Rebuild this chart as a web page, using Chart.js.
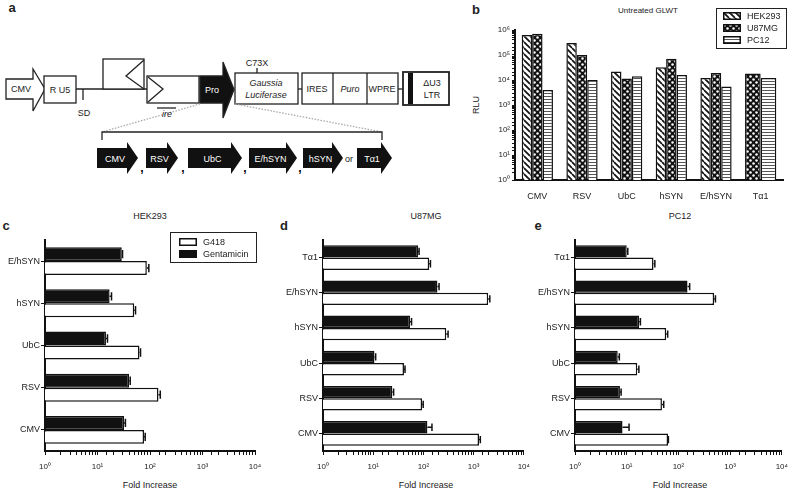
<!DOCTYPE html>
<html>
<head>
<meta charset="utf-8">
<script src="https://cdn.jsdelivr.net/npm/chart.js@4.4.1/dist/chart.umd.min.js"></script>
<style>
  html, body { margin: 0; padding: 0; background: #fff; }
  body { width: 795px; height: 489px; position: relative; overflow: hidden; font-family: 'Liberation Sans', Arial, sans-serif; color: #222; }
  .box { position: absolute; }
  .txt { position: absolute; transform: translate(-50%, -50%); white-space: nowrap; font-size: 9px; }
  .letter { position: absolute; font-weight: bold; font-size: 13px; transform: translate(-50%, -50%); }
  .legend { position: absolute; border: 1.5px solid #222; background: #fff; font-size: 9px; box-sizing: border-box; }
  .legend div { display: flex; align-items: center; height: 12px; }
  .legend canvas { margin-right: 6px; }
</style>
</head>
<body>

<svg width="470" height="185" style="position:absolute;left:0;top:0" font-family="Liberation Sans, Arial, sans-serif" font-size="9" fill="#222">
  <g stroke="#222" stroke-width="1.3" fill="#fff">
    <polygon points="6,79 33,79 33,69 45,89 33,111 33,99 6,99"/>
    <rect x="44" y="76" width="32" height="27"/>
    <line x1="76" y1="89" x2="147" y2="89"/>
    <line x1="83" y1="89" x2="83" y2="100"/>
    <rect x="103" y="59" width="41" height="30"/>
    <polyline points="144,60 126,76 144,89" fill="none"/>
    <rect x="147" y="76" width="52" height="27"/>
    <polyline points="148,77 163,89 148,102" fill="none"/>
    <line x1="157" y1="108" x2="176" y2="108"/>
    <polygon points="200,76 223,76 223,62 234,89.5 223,118 223,103 200,103" fill="#111"/>
    <line x1="257" y1="68" x2="257" y2="73"/>
    <rect x="235" y="73" width="63" height="31"/>
    <line x1="298" y1="89" x2="302" y2="89"/>
    <rect x="302" y="73" width="96" height="31"/>
    <line x1="333" y1="73" x2="333" y2="104"/>
    <line x1="367" y1="73" x2="367" y2="104"/>
    <line x1="398" y1="89" x2="403" y2="89"/>
    <rect x="403" y="72" width="46" height="33" stroke-width="1.8"/>
    <rect x="408" y="73" width="5" height="31" fill="#111" stroke="none"/>
    <line x1="200" y1="104" x2="102" y2="132" stroke="#aaa" stroke-dasharray="1.5,1.5"/>
    <line x1="235" y1="104" x2="382" y2="132" stroke="#aaa" stroke-dasharray="1.5,1.5"/>
    <path d="M102,140 V132 H382 V140" fill="none"/>
  </g>
  <g text-anchor="middle" fill="#222">
    <text x="21" y="92">CMV</text>
    <text x="60" y="93">R U5</text>
    <text x="84" y="116">SD</text>
    <text x="167" y="117" font-style="italic">ire</text>
    <text x="212" y="93" fill="#fff">Pro</text>
    <text x="257" y="66">C73X</text>
    <text x="266" y="86" font-style="italic">Gaussia</text>
    <text x="266" y="98" font-style="italic">Luciferase</text>
    <text x="317" y="92">IRES</text>
    <text x="350" y="92" font-style="italic">Puro</text>
    <text x="382" y="92">WPRE</text>
    <text x="432" y="86">ΔU3</text>
    <text x="432" y="98">LTR</text>
  </g>
  <g id="smallArrows"></g>
</svg>

<div class="letter" style="left:12px;top:7px">a</div>
<div class="letter" style="left:476px;top:9px">b</div>
<div class="letter" style="left:6px;top:225px">c</div>
<div class="letter" style="left:284px;top:225px">d</div>
<div class="letter" style="left:538px;top:225px">e</div>

<div class="txt" style="left:648px;top:10px;font-size:8px">Untreated GLWT</div>
<div class="txt" style="left:476px;top:105px;transform:translate(-50%,-50%) rotate(-90deg)">RLU</div>
<div class="txt" style="left:150px;top:216px">HEK293</div>
<div class="txt" style="left:426px;top:216px">U87MG</div>
<div class="txt" style="left:680px;top:216px">PC12</div>
<div class="txt" style="left:150px;top:485px">Fold Increase</div>
<div class="txt" style="left:426px;top:485px">Fold Increase</div>
<div class="txt" style="left:680px;top:485px">Fold Increase</div>

<div class="box" style="left:470px;top:0;width:325px;height:215px"><canvas id="chartB"></canvas></div>
<div class="box" style="left:0;top:200px;width:270px;height:289px"><canvas id="chartC"></canvas></div>
<div class="box" style="left:265px;top:200px;width:272px;height:289px"><canvas id="chartD"></canvas></div>
<div class="box" style="left:530px;top:200px;width:265px;height:289px"><canvas id="chartE"></canvas></div>

<div class="legend" id="legendB" style="left:716px;top:8px;width:71px;height:41px;padding:1px 0 0 6px"></div>
<div class="legend" id="legendC" style="left:170px;top:232px;width:87px;height:31px;padding:3px 0 0 8px"></div>

<script>
// panel b: RLU per promoter
const promotersB = ['CMV', 'RSV', 'UbC', 'hSYN', 'E/hSYN', 'Tα1'];
const rluHEK293 = [630000, 300000, 22000, 32000, 12000, null];
const rluU87MG = [700000, 100000, 11500, 70000, 19000, 18000];
const rluPC12 = [4000, 10000, 14000, 16000, 5500, 12000];
const powerLabels = ['10⁰', '10¹', '10²', '10³', '10⁴', '10⁵', '10⁶'];

// panel c: HEK293 fold increase
const promotersC = ['E/hSYN', 'hSYN', 'UbC', 'RSV', 'CMV'];
const hekGentamicin = [29, 17, 14.5, 40, 32];
const hekG418 = [87, 50, 63, 145, 77];
const hekGentamicinErr = [1, 1.5, 1, 2, 2];
const hekG418Err = [8, 3, 3, 12, 4];

// panels d and e
const promotersDE = ['Tα1', 'E/hSYN', 'hSYN', 'UbC', 'RSV', 'CMV'];
const u87Gentamicin = [78, 190, 54, 10.6, 24, 120];
const u87G418 = [130, 1950, 285, 41, 94, 1280];
const u87GentamicinErr = [4, 15, 4, 0.6, 1.5, 28];
const u87G418Err = [8, 150, 25, 2, 5, 80];
const pc12Gentamicin = [10, 150, 17.4, 6.7, 7.4, 8.3];
const pc12G418 = [33, 490, 58, 16, 48, 63];
const pc12GentamicinErr = [0.5, 15, 1, 0.5, 0.4, 2.8];
const pc12G418Err = [2, 30, 4, 1.2, 4, 1];

Chart.defaults.font.family = "'Liberation Sans', Arial, sans-serif";
Chart.defaults.color = '#222';

// small black promoter arrows under the construct
const smallArrows = [['CMV', 97, 138], ['RSV', 146, 178], ['UbC', 188, 242], ['E/hSYN', 249, 297], ['hSYN', 303, 343], ['Tα1', 357, 392]];
let svgHtml = '';
smallArrows.forEach(([name, x0, x1]) => {
    const hb = x1 - 11;
    svgHtml += `<polygon points="${x0},148 ${hb},148 ${hb},142 ${x1},158 ${hb},174 ${hb},168 ${x0},168" fill="#111"/>`;
    svgHtml += `<text x="${(x0 + hb) / 2 + 3}" y="161.5" fill="#fff" text-anchor="middle">${name}</text>`;
});
[142, 183, 245, 300].forEach(x => { svgHtml += `<text x="${x}" y="172" font-size="12" font-weight="bold" fill="#000" text-anchor="middle">,</text>`; });
svgHtml += '<text x="349" y="162" fill="#222" text-anchor="middle">or</text>';
document.getElementById('smallArrows').innerHTML = svgHtml;

// fill patterns for panel b
function makePattern(kind) {
    const c = document.createElement('canvas');
    const x = c.getContext('2d');
    if (kind === 'diag') {
        c.width = c.height = 6;
        x.fillStyle = '#fff'; x.fillRect(0, 0, 6, 6);
        x.strokeStyle = '#111'; x.lineWidth = 1.7;
        [-6, 0, 6].forEach(o => { x.beginPath(); x.moveTo(o, 0); x.lineTo(o + 6, 6); x.stroke(); });
    } else if (kind === 'dots') {
        c.width = c.height = 6;
        x.fillStyle = '#111'; x.fillRect(0, 0, 6, 6);
        x.fillStyle = '#fff';
        [[1.5, 1.5], [4.5, 4.5]].forEach(([a, b]) => { x.beginPath(); x.arc(a, b, 1.25, 0, Math.PI * 2); x.fill(); });
    } else {
        c.width = 4; c.height = 3;
        x.fillStyle = '#fff'; x.fillRect(0, 0, 4, 3);
        x.fillStyle = '#555'; x.fillRect(0, 0, 4, 1);
    }
    return x.createPattern(c, 'repeat');
}

function powerLabel(v) {
    const e = Math.log10(v);
    const r = Math.round(e);
    return Math.abs(e - r) < 1e-6 ? powerLabels[r] : '';
}

function swatch(fill, border) {
    const c = document.createElement('canvas');
    c.width = 18; c.height = 8;
    const x = c.getContext('2d');
    x.fillStyle = fill; x.fillRect(0, 0, 18, 8);
    x.strokeStyle = border; x.lineWidth = 1.5; x.strokeRect(0.75, 0.75, 16.5, 6.5);
    return c;
}

function addLegend(id, items) {
    const el = document.getElementById(id);
    items.forEach(([fill, name]) => {
        const row = document.createElement('div');
        row.appendChild(swatch(fill, '#111'));
        row.appendChild(document.createTextNode(name));
        el.appendChild(row);
    });
}

const patDiag = makePattern('diag');
const patDots = makePattern('dots');
const patHoriz = makePattern('horiz');

new Chart(document.getElementById('chartB'), {
    type: 'bar',
    data: {
        labels: promotersB,
        datasets: [
            { label: 'HEK293', data: rluHEK293, backgroundColor: patDiag },
            { label: 'U87MG', data: rluU87MG, backgroundColor: patDots },
            { label: 'PC12', data: rluPC12, backgroundColor: patHoriz }
        ]
    },
    options: {
        responsive: true,
        maintainAspectRatio: false,
        animation: false,
        skipNull: true,
        datasets: { bar: { borderColor: '#111', borderWidth: 1.5, categoryPercentage: 0.7, barPercentage: 1 } },
        layout: { padding: { top: 30, right: 12, left: 0, bottom: 0 } },
        plugins: { legend: { display: false }, tooltip: { enabled: false } },
        scales: {
            x: {
                grid: { display: false },
                border: { color: '#111', width: 2 },
                ticks: { font: { size: 9 }, padding: 3, maxRotation: 0 },
                afterFit: s => { s.height = 35; }
            },
            y: {
                type: 'logarithmic',
                min: 1,
                max: 1000000,
                grid: { drawOnChartArea: false, color: '#111', tickLength: 3 },
                border: { color: '#111', width: 2 },
                ticks: { autoSkip: false, font: { size: 8 }, padding: 2, callback: v => powerLabel(v) },
                afterFit: s => { s.width = 45; }
            }
        }
    }
});

addLegend('legendB', [[patDiag, 'HEK293'], [patDots, 'U87MG'], [patHoriz, 'PC12']]);
addLegend('legendC', [['#fff', 'G418'], ['#111', 'Gentamicin']]);

// draws the + error bar at the end of each horizontal bar
const errorBars = {
    id: 'errorBars',
    afterDatasetsDraw(chart) {
        const ctx = chart.ctx;
        const xs = chart.scales.x;
        chart.data.datasets.forEach((ds, i) => {
            if (!ds.errors) return;
            chart.getDatasetMeta(i).data.forEach((bar, j) => {
                const v = ds.data[j], e = ds.errors[j];
                if (v == null || !e) return;
                const x2 = xs.getPixelForValue(v + e);
                const h = bar.height * 0.6;
                ctx.save();
                ctx.strokeStyle = '#111';
                ctx.lineWidth = 1.5;
                ctx.beginPath();
                ctx.moveTo(bar.x, bar.y);
                ctx.lineTo(x2, bar.y);
                ctx.moveTo(x2, bar.y - h / 2);
                ctx.lineTo(x2, bar.y + h / 2);
                ctx.stroke();
                ctx.restore();
            });
        });
    }
};

function foldChart(id, labels, gent, gentErr, g418, g418Err, opts) {
    new Chart(document.getElementById(id), {
        type: 'bar',
        data: {
            labels: labels,
            datasets: [
                { label: 'Gentamicin', data: gent, errors: gentErr, backgroundColor: '#111' },
                { label: 'G418', data: g418, errors: g418Err, backgroundColor: '#fff' }
            ]
        },
        plugins: [errorBars],
        options: {
            indexAxis: 'y',
            responsive: true,
            maintainAspectRatio: false,
            animation: false,
            datasets: { bar: { borderColor: '#111', borderWidth: 1.5, categoryPercentage: opts.cat, barPercentage: 1 } },
            layout: { padding: { top: 40, right: opts.right, left: 0, bottom: 0 } },
            plugins: { legend: { display: false }, tooltip: { enabled: false } },
            scales: {
                x: {
                    type: 'logarithmic',
                    min: 1,
                    max: 10000,
                    grid: { drawOnChartArea: false, color: '#111', tickLength: 4 },
                    border: { color: '#111', width: 2 },
                    ticks: { autoSkip: false, maxRotation: 0, font: { size: 8 }, padding: 7, callback: v => powerLabel(v) },
                    afterFit: s => { s.height = 38; }
                },
                y: {
                    grid: { drawOnChartArea: false, offset: false, color: '#111', tickLength: 4 },
                    border: { color: '#111', width: 2 },
                    ticks: { font: { size: 9 }, padding: 1 },
                    afterFit: s => { s.width = opts.left; }
                }
            }
        }
    });
}

foldChart('chartC', promotersC, hekGentamicin, hekGentamicinErr, hekG418, hekG418Err, { cat: 0.66, left: 45, right: 15 });
foldChart('chartD', promotersDE, u87Gentamicin, u87GentamicinErr, u87G418, u87G418Err, { cat: 0.7, left: 58, right: 7 });
foldChart('chartE', promotersDE, pc12Gentamicin, pc12GentamicinErr, pc12G418, pc12G418Err, { cat: 0.7, left: 45, right: 10 });
</script>
</body>
</html>
